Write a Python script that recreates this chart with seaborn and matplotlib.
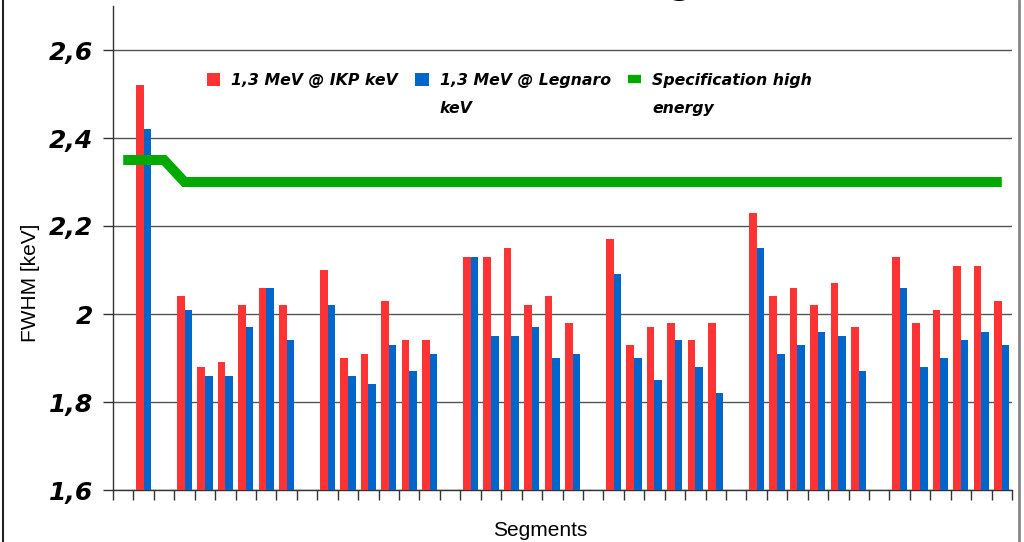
import numpy as np
import pandas as pd
import matplotlib
matplotlib.use("Agg")
import matplotlib.pyplot as plt
import seaborn as sns
from matplotlib.patches import Patch
from matplotlib.lines import Line2D

# ---------------- data ----------------
segments = [f"slot{i:02d}" for i in range(1, 45)]  # 44 category slots (empty slots = gaps)

ikp_values = [
    None, 2.52, None,
    2.04, 1.88, 1.89, 2.02, 2.06, 2.02, None,
    2.10, 1.90, 1.91, 2.03, 1.94, 1.94, None,
    2.13, 2.13, 2.15, 2.02, 2.04, 1.98, None,
    2.17, 1.93, 1.97, 1.98, 1.94, 1.98, None,
    2.23, 2.04, 2.06, 2.02, 2.07, 1.97, None,
    2.13, 1.98, 2.01, 2.11, 2.11, 2.03,
]
legnaro_values = [
    None, 2.42, None,
    2.01, 1.86, 1.86, 1.97, 2.06, 1.94, None,
    2.02, 1.86, 1.84, 1.93, 1.87, 1.91, None,
    2.13, 1.95, 1.95, 1.97, 1.90, 1.91, None,
    2.09, 1.90, 1.85, 1.94, 1.88, 1.82, None,
    2.15, 1.91, 1.93, 1.96, 1.95, 1.87, None,
    2.06, 1.88, 1.90, 1.94, 1.96, 1.93,
]
spec_values = [
    2.35, 2.35, 2.35, 2.30, 2.30, 2.30, 2.30, 2.30, 2.30, 2.30, 2.30,
    2.30, 2.30, 2.30, 2.30, 2.30, 2.30, 2.30, 2.30, 2.30, 2.30, 2.30,
    2.30, 2.30, 2.30, 2.30, 2.30, 2.30, 2.30, 2.30, 2.30, 2.30, 2.30,
    2.30, 2.30, 2.30, 2.30, 2.30, 2.30, 2.30, 2.30, 2.30, 2.30, 2.30,
]
series_names = ["1,3 MeV @ IKP keV", "1,3 MeV @ Legnaro\nkeV"]
spec_name = "Specification high\nenergy"
y_ticks = [1.6, 1.8, 2.0, 2.2, 2.4, 2.6]
y_tick_labels = ["1,6", "1,8", "2", "2,2", "2,4", "2,6"]

RED = "#FF3333"
BLUE = "#0066CC"
GREEN = "#00AA00"

# ---------------- table ----------------
rows = []
for seg, a, b in zip(segments, ikp_values, legnaro_values):
    if a is not None:
        rows.append((seg, a, series_names[0]))
    if b is not None:
        rows.append((seg, b, series_names[1]))
df = pd.DataFrame(rows, columns=["segment", "value", "series"])

# ---------------- plot ----------------
sns.set_style("white")
plt.rcParams["font.family"] = ["DejaVu Sans"]
plt.rcParams["text.color"] = "black"
plt.rcParams["axes.labelcolor"] = "black"
plt.rcParams["xtick.color"] = "black"
plt.rcParams["ytick.color"] = "black"

fig = plt.figure(figsize=(10.24, 5.42), dpi=100)
ax = fig.add_axes([113 / 1024, 52 / 542, (1012 - 113) / 1024, (490 - 6) / 542])

sns.barplot(data=df, x="segment", y="value", hue="series", order=segments,
            hue_order=series_names, palette=[RED, BLUE], width=0.74,
            saturation=1, errorbar=None, legend=False, ax=ax, zorder=3,
            linewidth=0, edgecolor="none")

pos = np.arange(len(segments))
ax.plot(pos, spec_values, color=GREEN, linewidth=7.2, solid_capstyle="butt",
        solid_joinstyle="miter", zorder=4)

ax.set_xlim(-0.5, len(segments) - 0.5)
ax.set_ylim(1.6, 2.7)

ax.set_yticks(y_ticks)
ax.set_yticklabels(y_tick_labels, fontsize=18, fontweight="bold", fontstyle="italic",
                   color="black")
ax.set_xticks(np.arange(-0.5, len(segments), 1.0))
ax.set_xticklabels([])

ax.yaxis.grid(True, color="#555555", linewidth=1.0, zorder=0)
ax.xaxis.grid(False)
ax.set_axisbelow(True)

ax.tick_params(axis="x", direction="out", length=7.5, width=1.0, color="#333333", bottom=True)
ax.tick_params(axis="y", direction="out", length=7.5, width=1.0, color="#333333", pad=7, left=True)

for s in ["top", "right"]:
    ax.spines[s].set_visible(False)
for s in ["left", "bottom"]:
    ax.spines[s].set_color("#333333")
    ax.spines[s].set_linewidth(1.0)

label_font = {"family": ["Liberation Sans", "DejaVu Sans"], "size": 15, "color": "black"}
ax.set_xlabel("Segments", fontdict=label_font)
ax.set_ylabel("FWHM [keV]", fontdict=label_font)
ax.xaxis.set_label_coords((540 - 113) / 899, (490 - 531) / 484)
ax.yaxis.set_label_coords((30 - 113) / 899, (490 - 283) / 484)
ax.xaxis.label.set_va("center")
ax.yaxis.label.set_va("center")

handles = [Patch(facecolor=RED, edgecolor="none"),
           Patch(facecolor=BLUE, edgecolor="none"),
           Line2D([], [], color=GREEN, linewidth=6, solid_capstyle="butt")]
labels = series_names + [spec_name]
leg = ax.legend(handles, labels, ncol=3, frameon=False, loc="upper left",
                bbox_to_anchor=(207 / 1024, 1 - 73 / 542), bbox_transform=fig.transFigure,
                prop={"size": 11.3, "weight": "bold", "style": "italic"},
                handlelength=0.85, handleheight=0.85, handletextpad=0.7,
                columnspacing=1.1, borderpad=0, borderaxespad=0)
for t in leg.get_texts():
    t.set_linespacing(2.05)
    t.set_color("black")
# align handles with the first text line
try:
    for col in leg._legend_handle_box.get_children():
        col.align = "top"
        for entry in col.get_children():
            entry.align = "top"
    leg._legend_handle_box.align = "top"
except Exception:
    pass

# fragment of the cut-off title at the top edge
fig.text(680 / 1024, 1 + 6 / 542, "g", fontsize=24, fontweight="bold",
         ha="center", va="baseline", color="black")

# outer frame edges of the original picture
fig.add_artist(Line2D([2.5 / 1024, 2.5 / 1024], [0, 1], transform=fig.transFigure,
                      color="#222222", linewidth=1.5))
fig.add_artist(Line2D([1019 / 1024, 1019 / 1024], [0, 1], transform=fig.transFigure,
                      color="#888888", linewidth=2))

fig.savefig("out.png", dpi=100)
